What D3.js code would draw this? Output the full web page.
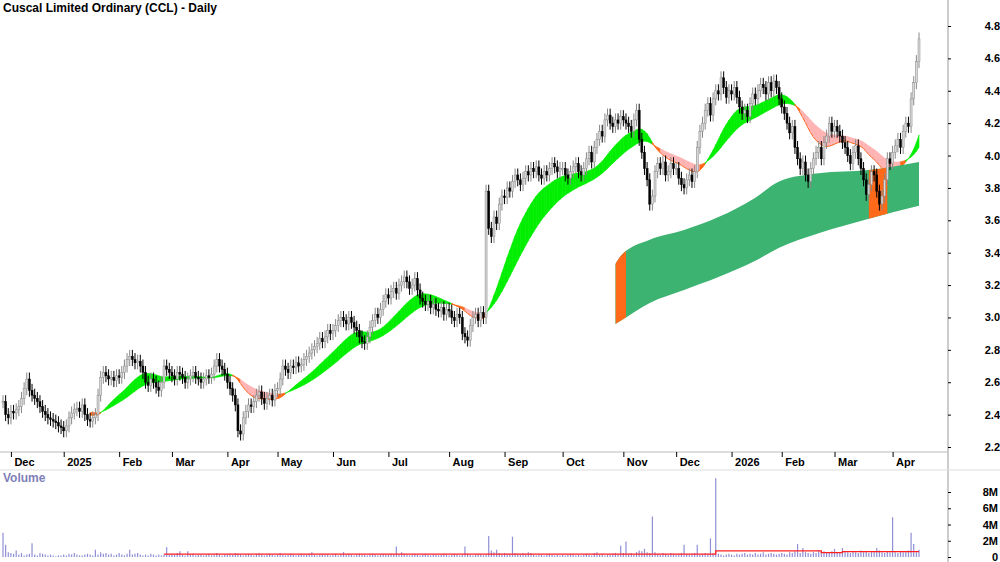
<!DOCTYPE html>
<html>
<head>
<meta charset="utf-8">
<title>CCL</title>
<style>
body{margin:0;background:#fff}
svg text{font-family:"Liberation Sans",Arial,sans-serif}
</style>
</head>
<body>
<svg width="1000" height="562"></svg>
<script src="https://d3js.org/d3.v7.min.js"></script>
<script>
// daily closes, late Nov 2024 .. Apr 2026 (one row per month)
var closes = [
 2.48,2.40,2.38,2.42,2.41,2.43,2.45,2.50,2.56,2.62,2.55,2.52,2.50,2.48,2.45,2.42,2.40,2.38,2.37,2.36,2.35,2.33,2.32,
 2.30,2.33,2.38,2.41,2.43,2.44,2.42,2.46,2.40,2.37,2.36,2.38,2.40,2.52,2.63,2.66,2.64,2.62,2.63,2.61,2.64,
 2.63,2.66,2.70,2.74,2.76,2.74,2.72,2.73,2.70,2.66,2.60,2.58,2.62,2.60,2.57,2.55,2.60,2.70,2.68,2.66,
 2.64,2.62,2.66,2.65,2.63,2.60,2.62,2.64,2.66,2.63,2.62,2.60,2.62,2.64,2.63,2.65,2.70,2.74,2.70,2.68,2.65,
 2.60,2.56,2.52,2.46,2.30,2.28,2.38,2.42,2.46,2.45,2.48,2.52,2.54,2.50,2.47,2.50,2.52,2.49,2.55,
 2.56,2.62,2.70,2.68,2.66,2.70,2.69,2.72,2.70,2.71,2.74,2.76,2.78,2.80,2.82,2.84,2.87,2.85,2.88,2.92,2.90,
 2.92,2.95,2.98,3.00,2.98,2.96,3.00,2.97,2.94,2.92,2.88,2.85,2.84,2.88,2.94,2.98,3.02,3.00,3.05,3.10,3.14,
 3.12,3.16,3.18,3.15,3.20,3.22,3.25,3.22,3.18,3.20,3.24,3.17,3.12,3.10,3.08,3.10,3.06,3.08,3.05,3.04,3.06,3.02,3.05,
 3.04,3.00,2.98,3.02,3.00,2.90,2.88,2.86,2.95,3.00,3.02,2.98,3.03,3.00,3.78,3.55,3.50,3.62,3.58,3.70,3.75,
 3.74,3.80,3.78,3.84,3.88,3.85,3.82,3.86,3.90,3.88,3.92,3.90,3.93,3.88,3.86,3.90,3.88,3.92,3.95,3.93,3.90,3.92,
 3.92,3.88,3.86,3.90,3.93,3.95,3.90,3.88,3.92,3.98,4.02,3.96,4.05,4.10,4.15,4.12,4.22,4.25,4.20,4.18,4.22,4.20,4.24,
 4.22,4.20,4.18,4.15,4.22,4.28,4.10,4.02,3.92,3.85,3.70,3.75,3.90,3.95,3.92,3.96,3.88,3.90,3.95,3.92,
 3.92,3.86,3.82,3.80,3.85,3.88,3.84,3.90,4.05,4.15,4.20,4.28,4.32,4.25,4.35,4.40,4.38,4.48,4.42,4.36,4.40,
 4.38,4.42,4.36,4.30,4.26,4.28,4.24,4.32,4.38,4.35,4.40,4.44,4.42,4.38,4.45,4.40,4.46,4.42,4.35,
 4.30,4.26,4.20,4.14,4.18,4.05,3.98,3.92,3.96,3.88,3.84,3.92,3.98,4.02,4.05,3.98,4.08,4.12,4.20,4.15,
 4.18,4.15,4.12,4.08,4.05,4.00,3.95,4.02,4.06,3.98,3.92,3.85,3.76,3.82,3.90,3.88,3.78,3.70,3.75,3.85,3.98,3.95,
 4.02,4.06,4.10,4.05,4.15,4.20,4.18,4.35,4.45,4.58,4.72
];
// daily volume, millions
var volumes = [
 3.0,1.5,0.6,0.5,0.4,0.8,0.3,0.5,0.2,0.3,0.4,1.7,0.3,0.2,0.5,0.4,0.3,0.2,0.3,0.2,0.1,0.2,0.2,
 0.3,0.2,0.4,0.3,0.5,0.3,0.2,0.2,0.3,0.4,0.3,0.2,0.9,0.3,0.6,0.4,0.5,0.3,0.4,0.2,0.3,
 0.5,0.3,0.2,0.4,0.9,0.3,0.4,0.5,0.3,0.2,0.3,0.2,0.4,0.3,0.2,0.3,0.2,0.3,1.2,0.3,
 0.4,0.3,0.5,0.7,0.3,0.2,0.7,0.3,0.4,0.2,0.3,0.3,0.2,0.3,0.4,0.2,0.3,0.5,0.3,0.2,0.3,
 0.3,0.4,0.3,0.5,0.4,0.3,0.2,0.3,0.4,0.3,0.2,0.4,0.5,0.3,0.2,0.3,0.4,0.3,0.2,
 0.3,0.5,0.3,0.2,0.3,0.4,0.3,0.2,0.3,0.4,0.3,0.3,0.4,0.6,0.3,0.2,0.3,0.4,0.3,0.3,0.2,
 0.3,0.4,0.2,0.3,0.6,0.3,0.4,0.3,0.2,0.3,0.4,0.3,0.3,0.2,0.3,0.4,0.3,0.2,0.3,0.4,0.3,
 0.3,0.4,0.3,1.3,0.3,0.6,0.4,0.3,0.2,0.3,0.4,0.3,0.2,0.3,0.4,0.3,0.2,0.3,0.3,0.2,0.3,0.4,0.3,
 0.2,0.3,0.4,0.3,0.2,0.3,1.3,0.4,0.3,0.2,0.3,0.4,0.3,0.2,0.3,2.6,0.8,0.6,0.9,0.5,0.4,
 0.5,0.4,0.4,2.5,0.5,0.4,0.3,0.5,0.4,0.6,0.5,0.3,0.2,0.3,0.3,0.2,0.3,0.4,0.3,0.2,0.3,0.2,
 0.3,0.2,0.3,0.4,0.3,0.2,0.3,0.2,0.3,0.4,0.3,0.2,0.5,0.6,0.3,0.4,0.2,0.3,0.3,0.4,0.5,0.3,1.4,
 0.5,1.9,0.4,0.5,0.3,0.6,0.8,0.7,1.0,0.6,0.5,5.0,0.6,0.4,0.3,0.5,0.4,0.3,0.5,0.4,
 0.3,0.4,0.5,1.5,0.4,0.3,0.4,0.5,1.5,0.3,0.4,0.5,0.4,2.3,0.5,9.7,0.4,0.3,0.2,0.3,0.4,
 0.3,0.2,0.4,0.3,0.4,0.5,0.3,0.4,0.3,0.5,0.3,0.4,0.6,0.3,0.4,0.5,0.4,0.3,0.4,
 0.5,0.4,0.3,0.6,0.5,0.7,1.6,0.5,1.1,0.6,0.5,0.4,0.6,0.5,0.8,0.6,0.7,0.5,0.6,0.7,
 1.0,0.6,0.5,1.1,0.7,0.6,0.5,0.7,0.6,0.5,0.8,0.6,0.7,0.5,0.6,0.7,1.1,0.8,0.6,0.5,0.7,0.6,
 4.9,0.6,0.5,0.7,0.6,0.7,0.8,3.0,1.6,0.6,0.9
];
// volume average (step line): [bar index, millions]
var volAvg = [[61,0.35],[270,0.75],[310,0.55],[318,0.65],[347,0.65]];
// long-term band: bar index, top, bottom
var longIdx = [232,234,245,258,271,285,294,309,328,347];
var longTop = [3.33,3.38,3.48,3.54,3.62,3.74,3.84,3.89,3.91,3.96];
var longBot = [2.96,2.98,3.09,3.17,3.25,3.35,3.43,3.52,3.61,3.69];
var longWarn = [[232,236],[328,335]];
// month axis labels and first bar index of each month
var monthLabels = ["Dec","2025","Feb","Mar","Apr","May","Jun","Jul","Aug","Sep","Oct","Nov","Dec","2026","Feb","Mar","Apr"];
var monthIdx = [3,23,44,64,85,104,125,146,169,190,212,235,255,276,295,315,337];
var priceTicks = [2.2,2.4,2.6,2.8,3.0,3.2,3.4,3.6,3.8,4.0,4.2,4.4,4.6,4.8];
var volTicks = [0,2,4,6,8];

var svg = d3.select("svg");
var x = d3.scaleLinear().domain([0, closes.length - 1]).range([3, 919]);
var y = d3.scaleLinear().domain([2.2, 4.8]).range([447, 26]);
var yv = d3.scaleLinear().domain([0, 8]).range([557, 492]);

// frame
svg.append("line").attr("x1",948).attr("x2",948).attr("y1",0).attr("y2",562).attr("stroke","#999");
svg.append("line").attr("x1",0).attr("x2",948).attr("y1",452).attr("y2",452).attr("stroke","#bbb");
svg.append("line").attr("x1",0).attr("x2",1000).attr("y1",470).attr("y2",470).attr("stroke","#ddd");

// short-term ribbon from EMAs of the closes
function ema(arr, n) {
  var k = 2 / (n + 1), out = [], v = arr[0];
  arr.forEach(function(c) { v = c * k + v * (1 - k); out.push(v); });
  return out;
}
var fast = ema(ema(closes, 12), 8), slow = ema(ema(closes, 24), 10);
var rib = [];
for (var i = 33; i < closes.length; i++) rib.push({i: i, f: fast[i], s: slow[i]});
for (var j = 0; j < rib.length - 1; j++) {
  var a = rib[j], b = rib[j + 1];
  var up = b.f >= b.s;
  var col = up ? "#00ee00" : (Math.abs(b.f - b.s) < 0.025 ? "#ff6a1a" : "#ffb3b3");
  var seg = [a, b];
  svg.append("path").datum(seg).attr("fill", col).attr("stroke", col).attr("stroke-width", 0.6)
    .attr("d", d3.area().x(function(d){return x(d.i);}).y0(function(d){return y(d.s);}).y1(function(d){return y(d.f);}));
  if (!up) svg.append("path").datum(seg).attr("fill","none").attr("stroke","#ff6a1a").attr("stroke-width",1)
    .attr("d", d3.line().x(function(d){return x(d.i);}).y(function(d){return y(d.f);}));
}

// long-term band
var longData = longIdx.map(function(v, k) { return {i: v, t: longTop[k], b: longBot[k]}; });
var longArea = d3.area().curve(d3.curveMonotoneX)
  .x(function(d){return x(d.i);}).y0(function(d){return y(d.b);}).y1(function(d){return y(d.t);});
svg.append("path").datum(longData).attr("fill", "#3cb371").attr("d", longArea);
svg.append("defs").selectAll("clipPath").data(longWarn).join("clipPath")
  .attr("id", function(d, k){return "w" + k;})
  .append("rect").attr("x", function(d){return x(d[0]);}).attr("width", function(d){return x(d[1]) - x(d[0]);})
  .attr("y", 0).attr("height", 452);
longWarn.forEach(function(d, k) {
  svg.append("path").datum(longData).attr("fill", "#ff6a1a").attr("clip-path", "url(#w" + k + ")").attr("d", longArea);
});

// candles
var bars = closes.map(function(c, k) {
  var o = k ? closes[k - 1] : c;
  return {i: k, o: o, c: c, h: Math.max(o, c) + 0.04, l: Math.min(o, c) - 0.04};
});
var g = svg.append("g");
g.selectAll("line").data(bars).join("line")
  .attr("x1", function(d){return x(d.i);}).attr("x2", function(d){return x(d.i);})
  .attr("y1", function(d){return y(d.h);}).attr("y2", function(d){return y(d.l);})
  .attr("stroke", function(d){return d.c >= d.o ? "#888" : "#000";});
g.selectAll("rect").data(bars).join("rect")
  .attr("x", function(d){return x(d.i) - 1;}).attr("width", 2)
  .attr("y", function(d){return y(Math.max(d.o, d.c));})
  .attr("height", function(d){return Math.max(1, y(Math.min(d.o, d.c)) - y(Math.max(d.o, d.c)));})
  .attr("fill", function(d){return d.c >= d.o ? "#d8d8d8" : "#000";})
  .attr("stroke", function(d){return d.c >= d.o ? "#888" : "#000";}).attr("stroke-width", 0.5);

// price axis
var ya = svg.append("g").attr("transform","translate(948,0)")
  .call(d3.axisRight(y).tickValues(priceTicks).tickFormat(d3.format(".1f")).tickSize(3));
ya.select(".domain").remove();
ya.selectAll("text").attr("x", 52).attr("text-anchor","end").style("font-size","11px").style("font-weight","bold");

// month axis
var xa = svg.append("g").attr("transform","translate(0,452)")
  .call(d3.axisBottom(x).tickValues(monthIdx).tickFormat(function(d, k){return monthLabels[k];}).tickSize(5));
xa.select(".domain").remove();
xa.selectAll("text").attr("x", 3).attr("y", 6).attr("text-anchor","start").style("font-size","11px").style("font-weight","bold");

// volume
svg.append("g").selectAll("line").data(volumes).join("line")
  .attr("x1", function(d, k){return x(k);}).attr("x2", function(d, k){return x(k);})
  .attr("y1", yv(0)).attr("y2", function(d){return yv(d);}).attr("stroke","#8f8fd6").attr("stroke-width",1.2);
svg.append("path").datum(volAvg).attr("fill","none").attr("stroke","#ff2020").attr("stroke-width",1.3)
  .attr("d", d3.line().curve(d3.curveStepAfter).x(function(d){return x(d[0]);}).y(function(d){return yv(d[1]);}));
var va = svg.append("g").attr("transform","translate(948,0)")
  .call(d3.axisRight(yv).tickValues(volTicks).tickFormat(function(d){return d ? d + "M" : "0";}).tickSize(3));
va.select(".domain").remove();
va.selectAll("text").attr("x", 50).attr("text-anchor","end").style("font-size","11px").style("font-weight","bold");

svg.append("text").attr("x",3).attr("y",12).text("Cuscal Limited Ordinary (CCL) - Daily")
  .style("font-size","12px").style("font-weight","bold");
svg.append("text").attr("x",3).attr("y",482).text("Volume")
  .style("font-size","12px").style("font-weight","bold").attr("fill","#7f7fb8");
</script>
</body>
</html>
